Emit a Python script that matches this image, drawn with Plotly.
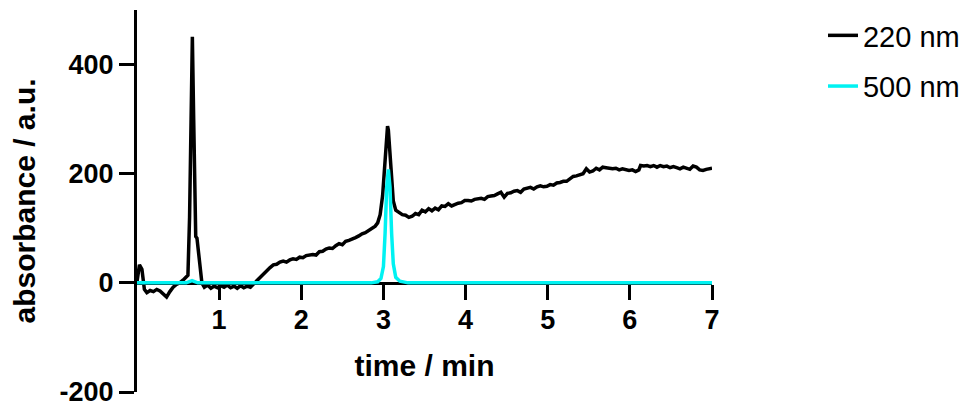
import plotly.graph_objects as go

# ---- data ----
t_220 = [0.00, 0.03, 0.06, 0.09, 0.12, 0.16, 0.20, 0.24, 0.28, 0.32, 0.36, 0.40, 0.44, 0.48,
         0.52, 0.56, 0.60, 0.62, 0.64, 0.66, 0.674, 0.69, 0.705, 0.715, 0.73, 0.75, 0.77, 0.79,
         0.82, 0.86, 0.90, 0.94, 0.98, 1.02, 1.06, 1.10, 1.14, 1.18, 1.22, 1.26, 1.30, 1.34, 1.38,
         1.42, 1.46, 1.50, 1.54, 1.58, 1.62, 1.66, 1.70, 1.74, 1.78, 1.82, 1.86, 1.90, 1.94, 1.98,
         2.02, 2.06, 2.10, 2.14, 2.18, 2.22, 2.26, 2.30, 2.34, 2.38, 2.42, 2.46, 2.50, 2.54, 2.58,
         2.62, 2.66, 2.70, 2.74, 2.78, 2.82, 2.86, 2.90, 2.93, 2.96, 2.99, 3.02, 3.04, 3.05, 3.06,
         3.08, 3.10, 3.12, 3.15, 3.19, 3.23, 3.27, 3.31, 3.35, 3.39, 3.43, 3.47, 3.51, 3.55, 3.59,
         3.63, 3.67, 3.71, 3.75, 3.79, 3.83, 3.87, 3.91, 3.95, 3.99, 4.03, 4.07, 4.11, 4.15, 4.19,
         4.23, 4.27, 4.31, 4.35, 4.39, 4.43, 4.47, 4.51, 4.55, 4.59, 4.63, 4.67, 4.71, 4.75, 4.79,
         4.83, 4.87, 4.91, 4.95, 4.99, 5.03, 5.07, 5.11, 5.15, 5.19, 5.23, 5.27, 5.31, 5.35, 5.39,
         5.43, 5.47, 5.51, 5.55, 5.59, 5.63, 5.67, 5.71, 5.75, 5.79, 5.83, 5.87, 5.91, 5.95, 5.99,
         6.03, 6.07, 6.11, 6.13, 6.17, 6.21, 6.25, 6.29, 6.33, 6.37, 6.41, 6.45, 6.49, 6.53, 6.57,
         6.61, 6.65, 6.69, 6.73, 6.77, 6.81, 6.85, 6.89, 6.93, 6.97, 7.00]
abs_220 = [2, 33, 25, -12, -18, -14, -16, -12, -15, -20, -26, -16, -8, -3,
           0, 5, 10, 14, 120, 380, 451, 300, 120, 85, 82, 55, 20, 0,
           -8, -4, -10, -6, -9, -5, -8, -4, -9, -6, -10, -5, -9, -6, -8,
           -2, 5, 12, 18, 22, 28, 33, 34, 38, 40, 38, 42, 44, 43, 47,
           46, 50, 51, 52, 51, 57, 58, 62, 64, 63, 68, 72, 70, 76, 78,
           80, 83, 86, 90, 92, 96, 100, 104, 110, 125, 160, 215, 270, 287, 280,
           240, 185, 150, 133, 128, 125, 124, 120, 122, 127, 125, 133, 130, 136, 132,
           137, 134, 141, 140, 145, 141, 144, 146, 147, 151, 151, 150, 153, 154, 155,
           153, 158, 159, 160, 163, 166, 157, 164, 165, 168, 169, 166, 172, 173, 175,
           172, 176, 178, 176, 177, 180, 179, 183, 184, 186, 186, 190, 195, 196, 198,
           200, 209, 203, 205, 210, 207, 212, 211, 210, 209, 210, 207, 209, 208, 206,
           207, 204, 207, 215, 214, 215, 213, 215, 212, 215, 213, 214, 211, 213, 211,
           209, 212, 210, 208, 214, 212, 207, 206, 208, 210, 210]

t_500 = [0.00, 0.60, 0.67, 0.74, 2.85, 2.93, 2.97, 3.00, 3.02, 3.04, 3.06, 3.08, 3.10,
         3.12, 3.15, 3.20, 3.30, 7.00]
abs_500 = [0, 0, 4, 0, 0, 2, 8, 30, 90, 175, 208, 175, 90,
           35, 10, 3, 0, 0]

series_names = ["220 nm", "500 nm"]
series_colors = ["#000000", "#00F2F2"]

x_ticks = [1, 2, 3, 4, 5, 6, 7]
y_ticks = [-200, 0, 200, 400]

FONT = "Liberation Sans, Arial, Helvetica, sans-serif"

fig = go.Figure()
fig.add_trace(go.Scatter(x=t_220, y=abs_220, mode="lines", name=series_names[0],
                         legendgroup="a", line=dict(color=series_colors[0], width=3.5)))
fig.add_trace(go.Scatter(x=t_500, y=abs_500, mode="lines", name=series_names[1],
                         legendgroup="b", line=dict(color=series_colors[1], width=3.5)))

# The page body adds an 8px offset, so the figure is 8px smaller and margins are shifted.
fig.update_layout(
    width=967, height=406,
    margin=dict(l=129, r=263, t=2, b=22, autoexpand=False),
    plot_bgcolor="white", paper_bgcolor="white",
    font=dict(family=FONT, color="black"),
    showlegend=True,
    legend=dict(x=1.193, y=1.0, xanchor="left", yanchor="top",
                font=dict(size=29, family=FONT, color="black"),
                tracegroupgap=10, bgcolor="rgba(0,0,0,0)"),
    xaxis=dict(
        range=[0, 7], tickvals=x_ticks, ticktext=[str(v) for v in x_ticks],
        showgrid=False, zeroline=False, automargin=False,
        showline=True, linecolor="black", linewidth=3,
        ticks="outside", ticklen=15, tickwidth=3, tickcolor="black",
        tickfont=dict(size=27, family=FONT, weight="bold", color="black"),
        anchor="free", position=2 / 7, layer="below traces",
        ticklabelstandoff=-3,
        title=dict(text="time / min", font=dict(size=30, family=FONT, weight="bold"),
                   standoff=20),
    ),
    yaxis=dict(
        range=[-200, 500], tickvals=y_ticks, ticktext=[str(v) for v in y_ticks],
        showgrid=False, zeroline=False, automargin=False,
        showline=True, linecolor="black", linewidth=3,
        ticks="outside", ticklen=15, tickwidth=3, tickcolor="black",
        tickfont=dict(size=27, family=FONT, weight="bold", color="black"),
        ticklabelstandoff=0,
        title=dict(text="absorbance / a.u.", font=dict(size=30, family=FONT, weight="bold"),
                   standoff=21),
    ),
)

fig.write_html("out.html")
